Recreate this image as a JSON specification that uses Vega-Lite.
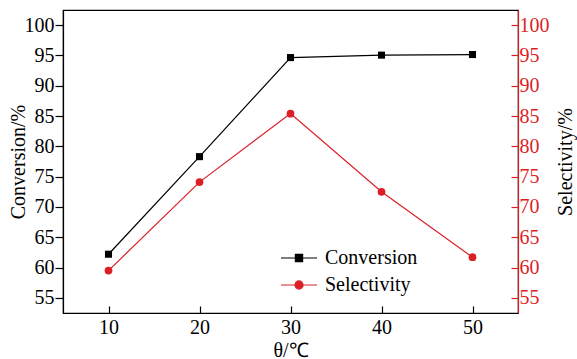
{
  "$schema": "https://vega.github.io/schema/vega-lite/v6.json",
  "width": 455,
  "height": 303,
  "autosize": {"type": "none"},
  "padding": {"left": 63, "top": 10, "right": 59, "bottom": 46},
  "background": "white",
  "config": {
    "font": "Liberation Serif",
    "view": {"stroke": "black", "strokeWidth": 1.2},
    "axis": {
      "labelFont": "Liberation Serif",
      "titleFont": "Liberation Serif",
      "labelFontSize": 20,
      "titleFontSize": 20,
      "titleFontWeight": "normal",
      "grid": false,
      "domainWidth": 1.2,
      "tickWidth": 1.2
    },
    "legend": {
      "orient": "none",
      "legendX": 226,
      "legendY": 238,
      "padding": 0,
      "labelFont": "Liberation Serif",
      "labelFontSize": 20,
      "labelColor": "black",
      "symbolSize": 324,
      "labelOffset": 16,
      "rowPadding": 7
    }
  },
  "data": {
    "values": [
      {"T": 10, "series": "Conversion", "v": 62.2},
      {"T": 20, "series": "Conversion", "v": 78.3},
      {"T": 30, "series": "Conversion", "v": 94.65},
      {"T": 40, "series": "Conversion", "v": 95.05},
      {"T": 50, "series": "Conversion", "v": 95.15},
      {"T": 10, "series": "Selectivity", "v": 59.5},
      {"T": 20, "series": "Selectivity", "v": 74.1},
      {"T": 30, "series": "Selectivity", "v": 85.4},
      {"T": 40, "series": "Selectivity", "v": 72.5},
      {"T": 50, "series": "Selectivity", "v": 61.7}
    ]
  },
  "encoding": {
    "x": {
      "field": "T",
      "type": "quantitative",
      "scale": {"domain": [5, 55], "nice": false, "zero": false},
      "axis": {
        "values": [10, 20, 30, 40, 50],
        "title": "θ/℃",
        "tickSize": -7,
        "labelPadding": 11,
        "titlePadding": 3,
        "domainColor": "black",
        "tickColor": "black",
        "labelColor": "black",
        "titleColor": "black"
      }
    },
    "color": {
      "field": "series",
      "type": "nominal",
      "scale": {"domain": ["Conversion", "Selectivity"], "range": ["black", "#dc1f26"]},
      "legend": {
        "title": null,
        "symbolType": "M-2,0H2M-0.4,-0.4H0.4V0.4H-0.4Z",
        "encode": {
          "symbols": {
            "update": {
              "shape": {"signal": "datum.value === 'Conversion' ? 'M-2,0H2M-0.4,-0.4H0.4V0.4H-0.4Z' : 'M-2,0H2M-0.45,0A0.45,0.45,0,1,0,0.45,0A0.45,0.45,0,1,0,-0.45,0Z'"},
              "fill": {"signal": "datum.value === 'Conversion' ? 'black' : '#dc1f26'"},
              "stroke": {"signal": "datum.value === 'Conversion' ? 'black' : '#dc1f26'"},
              "strokeWidth": {"value": 1.2},
              "opacity": {"value": 1},
              "fillOpacity": {"value": 1}
            }
          }
        }
      }
    }
  },
  "layer": [
    {
      "transform": [{"filter": "datum.series === 'Conversion'"}],
      "encoding": {
        "y": {
          "field": "v",
          "type": "quantitative",
          "scale": {"domain": [52.5, 102.5], "nice": false, "zero": false},
          "axis": {
            "orient": "left",
            "values": [55, 60, 65, 70, 75, 80, 85, 90, 95, 100],
            "title": "Conversion/%",
            "tickSize": 8,
            "labelPadding": 1,
            "titlePadding": -4,
            "domainColor": "black",
            "tickColor": "black",
            "labelColor": "black",
            "titleColor": "black"
          }
        }
      },
      "layer": [
        {"mark": {"type": "line", "strokeWidth": 1.2}},
        {"mark": {"type": "point", "shape": "square", "filled": true, "size": 50, "opacity": 1}}
      ]
    },
    {
      "transform": [{"filter": "datum.series === 'Selectivity'"}],
      "encoding": {
        "y": {
          "field": "v",
          "type": "quantitative",
          "scale": {"domain": [52.5, 102.5], "nice": false, "zero": false},
          "axis": {
            "orient": "right",
            "values": [55, 60, 65, 70, 75, 80, 85, 90, 95, 100],
            "title": "Selectivity/%",
            "titleAngle": 270,
            "titleBaseline": "bottom",
            "tickSize": -7,
            "labelPadding": 8,
            "titlePadding": 26,
            "domainColor": "#dc1f26",
            "tickColor": "#dc1f26",
            "labelColor": "#dc1f26",
            "titleColor": "black"
          }
        }
      },
      "layer": [
        {"mark": {"type": "line", "strokeWidth": 1.2}},
        {"mark": {"type": "point", "shape": "circle", "filled": true, "size": 60, "opacity": 1}}
      ]
    }
  ],
  "resolve": {"scale": {"y": "independent"}}
}
